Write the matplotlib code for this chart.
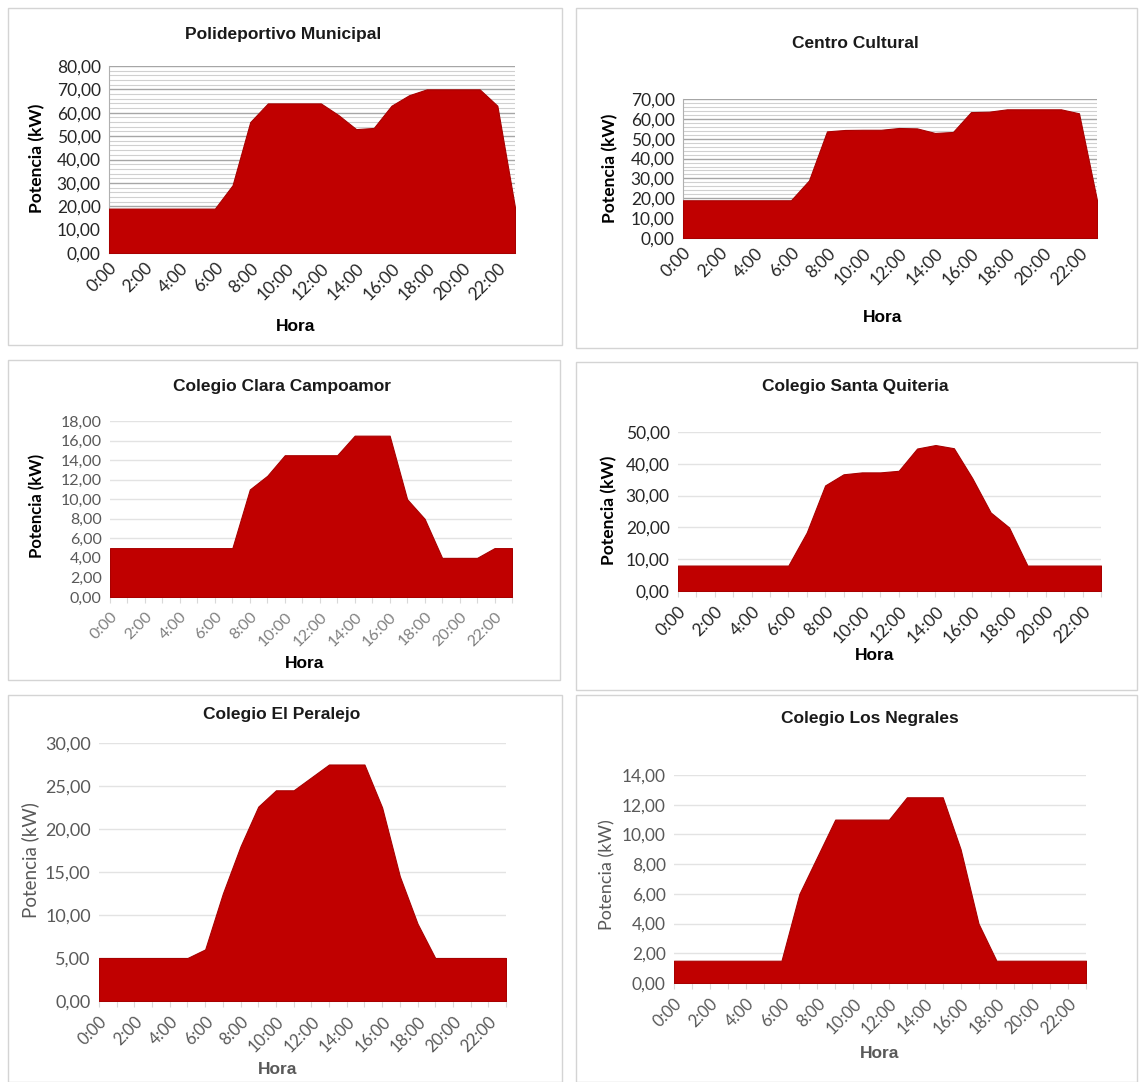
import matplotlib
matplotlib.use("Agg")
import matplotlib.pyplot as plt
from matplotlib.patches import Rectangle
from matplotlib.ticker import FuncFormatter, MultipleLocator

# horas del día (0:00 .. 23:00)
horas = list(range(24))
etiquetas_hora = ["%d:00" % h for h in range(0, 24, 2)]

# potencia horaria (kW) de cada edificio
polideportivo = [19, 19, 19, 19, 19, 19, 19, 29, 56, 64, 64, 64, 64, 59, 53, 53.5,
                 63, 67.5, 70, 70, 70, 70, 63, 19.5]
centro_cultural = [19, 19, 19, 19, 19, 19, 19, 29, 53.7, 54.4, 54.5, 54.5, 55.4, 55.2, 52.9, 53.4,
                   63.4, 63.6, 64.8, 64.8, 64.8, 64.8, 62.8, 19]
clara_campoamor = [5, 5, 5, 5, 5, 5, 5, 5, 11, 12.4, 14.5, 14.5, 14.5, 14.5, 16.5, 16.5,
                   16.5, 10, 8, 4, 4, 4, 5, 5]
santa_quiteria = [8, 8, 8, 8, 8, 8, 8, 18.4, 33.2, 36.7, 37.3, 37.3, 37.8, 44.8, 45.9, 44.9,
                  35.5, 24.7, 20, 8, 8, 8, 8, 8]
el_peralejo = [5, 5, 5, 5, 5, 5, 6, 12.5, 18, 22.6, 24.5, 24.5, 26, 27.5, 27.5, 27.5,
               22.5, 14.5, 9, 5, 5, 5, 5, 5]
los_negrales = [1.5, 1.5, 1.5, 1.5, 1.5, 1.5, 1.5, 6, 8.5, 11, 11, 11, 11, 12.5, 12.5, 12.5,
                9, 4, 1.5, 1.5, 1.5, 1.5, 1.5, 1.5]

W, H = 1139, 1082
fig = plt.figure(figsize=(W / 100, H / 100), dpi=100)
fig.patch.set_facecolor("white")

ROJO = "#C00000"
TITULO = dict(family="Liberation Sans", weight="bold", fontsize=12.5, color="#1a1a1a")
ETIQ = "Lato"


def px(x, y):
    return x / W, 1 - y / H


def marco(l, t, r, b):
    fig.patches.append(Rectangle((l / W, 1 - b / H), (r - l) / W, (b - t) / H,
                                 transform=fig.transFigure, fill=False,
                                 edgecolor="#d4d4d4", lw=1.0))


def coma(v, pos):
    return ("%.2f" % v).replace(".", ",")


def grafico(datos, titulo, caja, area, ymax, paso, tit_xy, hora_xy, ylab_xy,
            rayado=False, col_ticks="#404040", col_ylab="#000000", peso_ylab="bold",
            col_hora="#000000", col_xt=None, fs=12, fs_x=12, fs_ylab=12.5, marcas=True):
    marco(*caja)
    l, t, r, b = area
    ax = fig.add_axes([l / W, 1 - b / H, (r - l) / W, (b - t) / H])
    ax.fill_between(horas, datos, 0, color=ROJO, edgecolor="#a80000", lw=0.8, zorder=3)
    ax.set_xlim(0, 23)
    ax.set_ylim(0, ymax)
    ax.yaxis.set_major_locator(MultipleLocator(paso))
    ax.yaxis.set_major_formatter(FuncFormatter(coma))
    ax.set_xticks(range(0, 24, 2))
    ax.set_xticklabels(etiquetas_hora, rotation=45, ha="right", rotation_mode="anchor")
    for s in ("top", "right"):
        ax.spines[s].set_visible(False)
    if rayado:
        ax.yaxis.set_minor_locator(MultipleLocator(paso / 5))
        ax.grid(axis="y", which="major", color="#a6a6a6", lw=1.0, zorder=1)
        ax.grid(axis="y", which="minor", color="#d0d0d0", lw=0.8, zorder=1)
        ax.spines["left"].set_color("#b0b0b0")
        ax.spines["bottom"].set_color("#b0b0b0")
        ax.tick_params(axis="y", which="minor", length=0)
    else:
        ax.spines["left"].set_visible(False)
        ax.spines["bottom"].set_color("#d9d9d9")
        ax.grid(axis="y", color="#e3e3e3", lw=1.0, zorder=1)
    if marcas:
        ax.set_xticks(horas, minor=True)
        ax.tick_params(axis="x", which="both", length=4, color="#d9d9d9", width=0.8)
    else:
        ax.tick_params(axis="x", which="both", length=0)
    ax.tick_params(axis="y", which="major", length=0, pad=6)
    ax.tick_params(axis="x", which="major", pad=5)
    for lab in ax.get_yticklabels():
        lab.set_fontfamily(ETIQ)
        lab.set_fontsize(fs)
        lab.set_color(col_ticks)
    for lab in ax.get_xticklabels():
        lab.set_fontfamily(ETIQ)
        lab.set_fontsize(fs_x)
        lab.set_color(col_xt or col_ticks)
    fig.text(*px(*tit_xy), titulo, ha="center", va="center", **TITULO)
    fig.text(*px(*hora_xy), "Hora", ha="center", va="center", family="Liberation Sans",
             weight="bold", fontsize=12.5, color=col_hora)
    fig.text(*px(*ylab_xy), "Potencia (kW)", ha="center", va="center", rotation=90,
             family=ETIQ, weight=peso_ylab, fontsize=fs_ylab, color=col_ylab)
    return ax


grafico(polideportivo, "Polideportivo Municipal", (8, 8, 562, 345), (109, 66, 515, 253),
        80, 10, (283, 35), (296, 327), (37, 158), rayado=True, col_ticks="#262626",
        fs=12.5, fs_x=12.5, marcas=False)
grafico(centro_cultural, "Centro Cultural", (576, 8, 1137, 348), (683, 99, 1097, 238),
        70, 10, (855, 44), (883, 318), (610, 168), rayado=True, col_ticks="#262626",
        fs=12.5, fs_x=12.5, marcas=False)
grafico(clara_campoamor, "Colegio Clara Campoamor", (8, 360, 560, 680), (110, 421, 512, 597),
        18, 2, (282, 387), (305, 663), (37, 506), col_ticks="#595959", col_xt="#808080",
        fs=11.5, fs_x=11.5, fs_ylab=12)
grafico(santa_quiteria, "Colegio Santa Quiteria", (576, 362, 1137, 690), (678, 432, 1101, 591),
        50, 10, (855, 386), (875, 656), (609, 510), col_ticks="#262626",
        fs=12.5, fs_x=12.5)
grafico(el_peralejo, "Colegio El Peralejo", (8, 695, 562, 1082), (99, 743, 506, 1001),
        30, 5, (282, 714), (278, 1070), (30, 860), col_ticks="#595959", col_ylab="#595959",
        peso_ylab="normal", col_hora="#595959", fs=13, fs_x=12, fs_ylab=13.5)
grafico(los_negrales, "Colegio Los Negrales", (576, 695, 1137, 1082), (674, 775, 1086, 983),
        14, 2, (870, 718), (880, 1053), (607, 875), col_ticks="#595959", col_ylab="#595959",
        peso_ylab="normal", col_hora="#595959", fs=12.5, fs_x=12, fs_ylab=13)

fig.savefig("out.png", dpi=100, facecolor="white")
